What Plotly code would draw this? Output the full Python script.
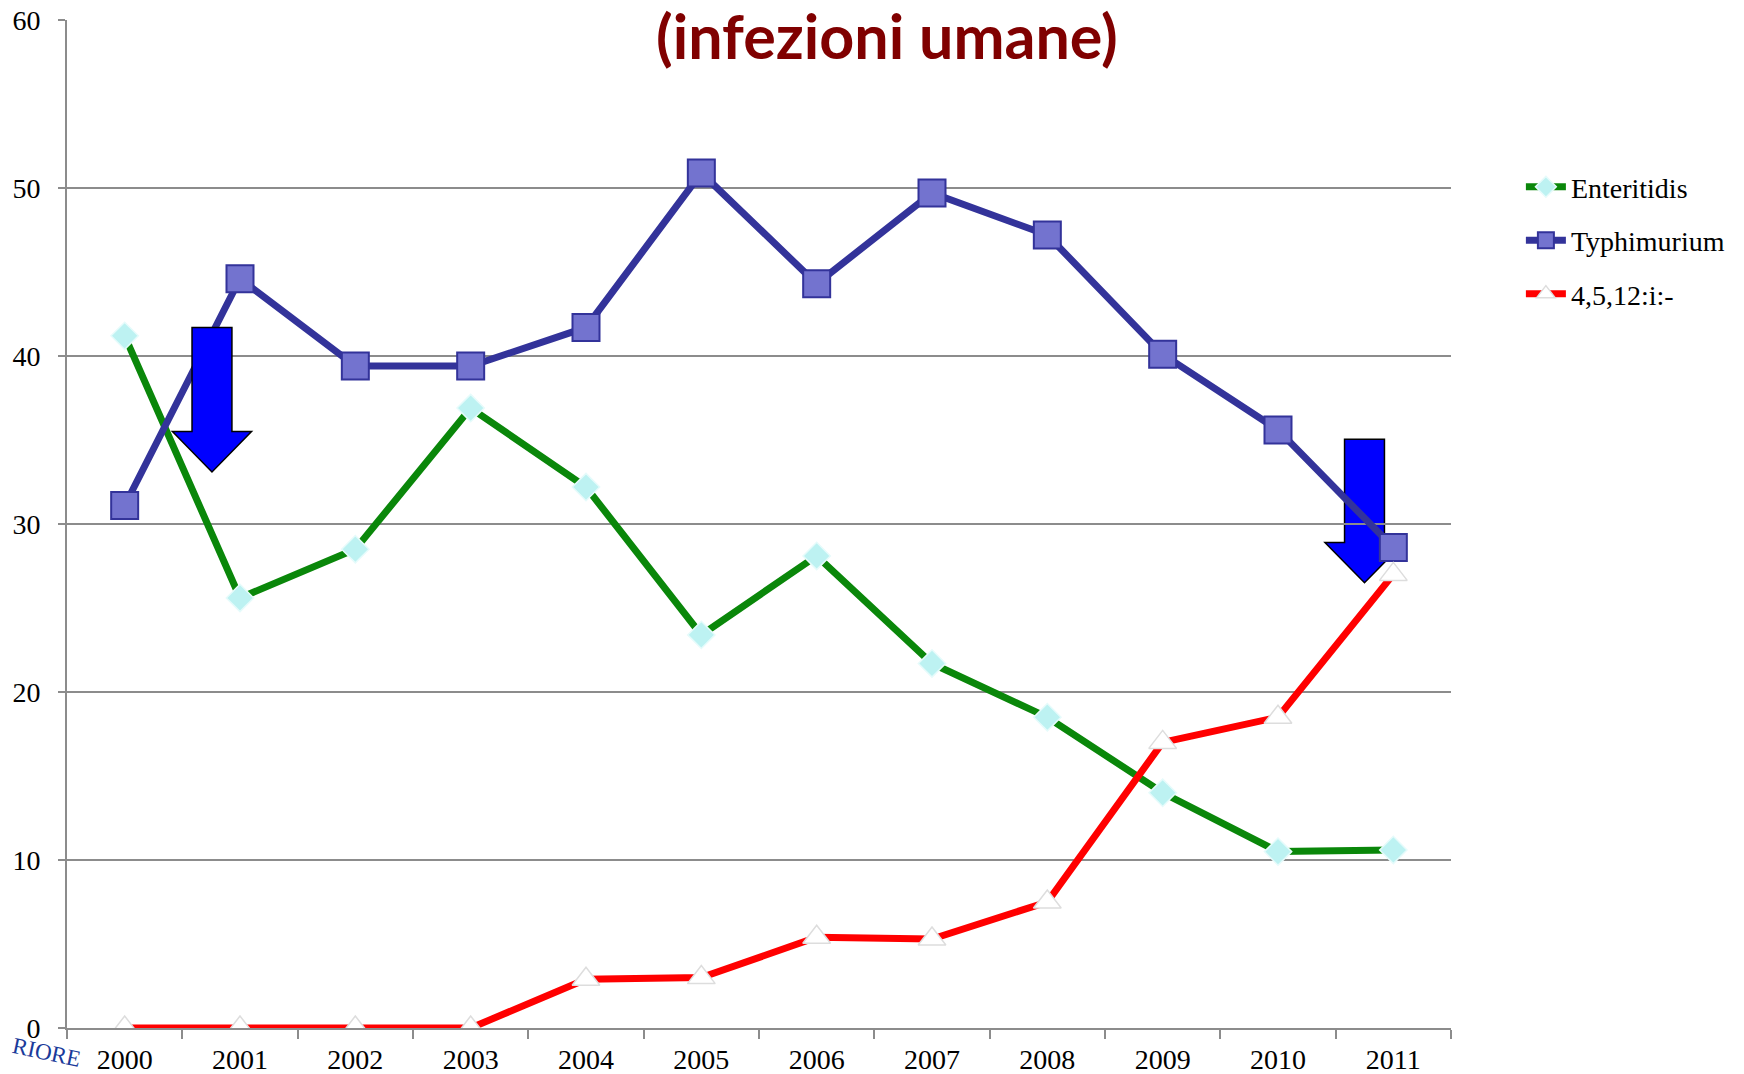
import plotly.graph_objects as go

years = ["2000", "2001", "2002", "2003", "2004", "2005",
         "2006", "2007", "2008", "2009", "2010", "2011"]
enteritidis = [41.2, 25.6, 28.5, 36.9, 32.2, 23.4, 28.1, 21.7, 18.5, 14.0, 10.5, 10.6]
typhimurium = [31.1, 44.6, 39.4, 39.4, 41.7, 50.9, 44.3, 49.7, 47.2, 40.1, 35.6, 28.6]
monophasic = [0, 0, 0, 0, 2.9, 3.0, 5.4, 5.3, 7.5, 17.0, 18.5, 27.0]
y_ticks = [0, 10, 20, 30, 40, 50, 60]

# down arrows: (x centre in category units, shaft top, head base, tip, layer)
arrows = [(0.757, 41.7, 35.5, 33.1, "above"), (10.75, 35.05, 28.9, 26.5, "below")]

fig = go.Figure()
fig.add_trace(go.Scatter(
    x=years, y=enteritidis, name="Enteritidis", mode="lines+markers",
    legendgroup="a",
    line=dict(color="#0a870a", width=7),
    marker=dict(symbol="diamond", size=21, color="#bdf2f2",
                line=dict(color="#e6fbfb", width=1.5)),
))
fig.add_trace(go.Scatter(
    x=years, y=typhimurium, name="Typhimurium", mode="lines+markers",
    legendgroup="b",
    line=dict(color="#33339a", width=7),
    marker=dict(symbol="square", size=27, color="#7373cf",
                line=dict(color="#33339a", width=2)),
))
fig.add_trace(go.Scatter(
    x=years, y=monophasic, name="4,5,12:i:-", mode="lines+markers",
    legendgroup="c",
    line=dict(color="#ff0000", width=7),
    marker=dict(symbol="triangle-up", size=24, color="#ffffff",
                line=dict(color="#dddddd", width=1.5)),
))

for cx, top, base, tip, layer in arrows:
    sw, hw = 0.173, 0.343
    path = (f"M {cx - sw} {top} L {cx + sw} {top} L {cx + sw} {base} "
            f"L {cx + hw} {base} L {cx} {tip} L {cx - hw} {base} "
            f"L {cx - sw} {base} Z")
    fig.add_shape(type="path", path=path, xref="x", yref="y",
                  fillcolor="#0000ff", line=dict(color="#000000", width=1.5),
                  layer=layer)

fig.add_annotation(
    text="<b>(infezioni umane)</b>", xref="paper", yref="paper",
    x=0.5925, y=0.985, xanchor="center", yanchor="middle", showarrow=False,
    font=dict(family="Lato", size=61, color="#800000"),
)
fig.add_annotation(
    text="RIORE", xref="paper", yref="paper", x=-0.0426, y=-0.0456,
    xanchor="left", yanchor="bottom", showarrow=False, textangle=12,
    font=dict(family="Liberation Serif", size=23, color="#1a3a9a"),
)

axis_font = dict(family="Liberation Serif", size=28, color="#000000")
fig.update_layout(
    width=1736, height=1066,
    margin=dict(l=59, r=293, t=12, b=46),
    paper_bgcolor="white", plot_bgcolor="white",
    showlegend=True,
    legend=dict(
        x=1.0505, y=0.859, xanchor="left", yanchor="top",
        font=dict(family="Liberation Serif", size=28, color="#000000"),
        tracegroupgap=14, itemwidth=40, bgcolor="rgba(0,0,0,0)",
    ),
    xaxis=dict(
        type="category", range=[-0.5, 11.5], tickson="boundaries",
        ticks="outside", ticklen=9, tickwidth=2, tickcolor="#8c8c8c",
        showline=True, linecolor="#8c8c8c", linewidth=2, showgrid=False,
        tickfont=axis_font, ticklabelstandoff=5, automargin=False,
        ticklabeloverflow="allow",
    ),
    yaxis=dict(
        range=[0, 60], tickvals=y_ticks, ticks="outside", ticklen=7,
        tickwidth=2, tickcolor="#8c8c8c", showline=True, linecolor="#8c8c8c",
        linewidth=2, showgrid=True, gridcolor="#8c8c8c", gridwidth=2,
        zeroline=False, tickfont=axis_font, ticklabelstandoff=12,
        automargin=False, ticklabeloverflow="allow",
    ),
)

fig.write_html("out.html")
